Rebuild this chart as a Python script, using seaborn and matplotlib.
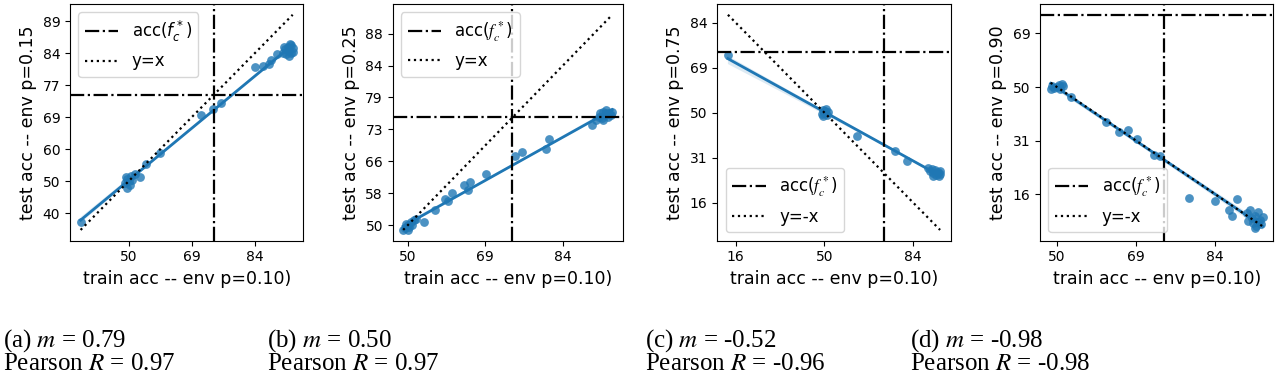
import math
import numpy as np
import pandas as pd
import matplotlib
matplotlib.use("Agg")
import matplotlib.pyplot as plt
from matplotlib.lines import Line2D
import seaborn as sns

# ---- data: train / test accuracies, in probit units
# (axes are probit-scaled: z = Phi^-1(accuracy); tick labels show accuracy %)
a_train = [-0.38, -0.03, -0.01, 0.02, 0.05, 0.09, -0.01, 0.00, 0.03, -0.02, 0.01,
           0.14, 0.246, 0.571, 0.669, 0.735, 1.00, 1.066, 1.111, 1.132, 1.172,
           1.22, 1.24, 1.25, 1.26, 1.27, 1.28, 1.29, 1.30, 1.27, 1.29, 1.23, 1.30]
a_test = [-0.32, -0.01, 0.02, 0.04, 0.06, 0.03, -0.05, 0.00, 0.01, 0.03, -0.03,
          0.135, 0.22, 0.518, 0.566, 0.612, 0.891, 0.899, 0.917, 0.944, 0.997,
          1.00, 1.03, 0.99, 1.05, 1.02, 1.07, 1.00, 1.04, 0.98, 1.06, 1.05, 1.01]

b_train = [-0.03, -0.02, 0.00, 0.01, 0.02, 0.04, 0.03, -0.01, 0.00, 0.05,
           0.103, 0.174, 0.238, 0.26, 0.285, 0.36, 0.389, 0.403, 0.507, 0.689,
           0.737, 0.893, 0.908, 1.187, 1.213,
           1.23, 1.24, 1.25, 1.26, 1.27, 1.28, 1.29, 1.30, 1.31, 1.318, 1.26, 1.28]
b_test = [-0.03, -0.02, 0.00, -0.01, 0.02, 0.035, 0.00, 0.01, -0.03, 0.04,
          0.022, 0.093, 0.163, 0.152, 0.199, 0.253, 0.221, 0.268, 0.319, 0.432,
          0.457, 0.478, 0.537, 0.63, 0.657,
          0.68, 0.70, 0.67, 0.71, 0.69, 0.72, 0.68, 0.70, 0.69, 0.71, 0.66, 0.70]

c_train = [-1.087, -0.03, 0.01, 0.03, -0.02, 0.00, 0.04, 0.02, -0.01,
           0.369, 0.794, 0.932,
           1.17, 1.19, 1.21, 1.23, 1.25, 1.26, 1.28, 1.30, 1.29, 1.22, 1.305]
c_test = [0.645, -0.02, 0.02, -0.03, 0.03, 0.00, 0.01, 0.04, -0.04,
          -0.257, -0.425, -0.537,
          -0.62, -0.65, -0.63, -0.67, -0.64, -0.69, -0.66, -0.65, -0.70, -0.71, -0.68]

d_train = [-0.04, -0.02, 0.01, 0.03, 0.00, -0.03, 0.02, 0.04,
           0.09, 0.31, 0.394, 0.447, 0.506, 0.611, 0.654, 0.837, 0.996, 1.135,
           1.09, 1.108,
           1.20, 1.22, 1.23, 1.24, 1.25, 1.26, 1.27, 1.28, 1.29, 1.30, 1.25, 1.21, 1.27]
d_test = [-0.02, -0.01, 0.02, 0.03, 0.00, 0.01, -0.02, 0.01,
          -0.093, -0.324, -0.417, -0.402, -0.481, -0.636, -0.648, -1.037, -1.059, -1.044,
          -1.143, -1.207,
          -1.18, -1.15, -1.22, -1.27, -1.20, -1.30, -1.17, -1.24, -1.28, -1.21, -1.32, -1.25, -1.26]

fc_star_acc = 75.0  # accuracy of f_c^* (percent)

panel_ylabels = ["test acc -- env p=0.15", "test acc -- env p=0.25",
                 "test acc -- env p=0.75", "test acc -- env p=0.90"]
xlabel = "train acc -- env p=0.10)"
ref_labels = ["y=x", "y=x", "y=-x", "y=-x"]
ref_signs = [1, 1, -1, -1]
legend_locs = ["upper left", "upper left", "lower left", "lower left"]

xticks_probit = [[0, 0.5, 1.0], [0, 0.5, 1.0], [-1.0, 0, 1.0], [0, 0.5, 1.0]]
yticks_probit = [[-0.25, 0, 0.25, 0.5, 0.75, 1.0, 1.25],
                 [0, 0.2, 0.4, 0.6, 0.8, 1.0, 1.2],
                 [-1.0, -0.5, 0, 0.5, 1.0],
                 [-1.0, -0.5, 0, 0.5]]

captions = [("(a) $m$ = 0.79", "Pearson $R$ = 0.97"),
            ("(b) $m$ = 0.50", "Pearson $R$ = 0.97"),
            ("(c) $m$ = -0.52", "Pearson $R$ = -0.96"),
            ("(d) $m$ = -0.98", "Pearson $R$ = -0.98")]


def Phi(z):
    return 0.5 * (1.0 + math.erf(z / math.sqrt(2.0)))


def probit(p):
    lo, hi = -10.0, 10.0
    for _ in range(200):
        mid = 0.5 * (lo + hi)
        if Phi(mid) < p:
            lo = mid
        else:
            hi = mid
    return 0.5 * (lo + hi)


W, H = 1280, 388
fig = plt.figure(figsize=(W / 100, H / 100), dpi=100)

ax_px = [(70, 303.3), (392.7, 622.7), (717.3, 950.7), (1040, 1273.3)]
top_px, bot_px = 4, 240.7
cap_x = [3, 267, 645, 910]

trains = [a_train, b_train, c_train, d_train]
tests = [a_test, b_test, c_test, d_test]
fc = probit(fc_star_acc / 100.0)
blue = "#1f77b4"

for i in range(4):
    l, r = ax_px[i]
    ax = fig.add_axes([l / W, 1 - bot_px / H, (r - l) / W, (bot_px - top_px) / H])
    df = pd.DataFrame({"train": trains[i], "test": tests[i]})
    sns.regplot(data=df, x="train", y="test", ax=ax, color=blue, seed=0,
                scatter_kws={"s": 40, "alpha": 0.8, "linewidths": 0},
                line_kws={"lw": 2})
    ax.axhline(fc, color="black", ls="-.", lw=1.6, label="acc($f_c^*$)")
    ax.axvline(fc, color="black", ls="-.", lw=1.6)
    xs = np.array([df["train"].min(), df["train"].max()])
    ax.plot(xs, ref_signs[i] * xs, color="black", ls=":", lw=1.6, label=ref_labels[i])

    ax.set_xticks(xticks_probit[i])
    ax.set_xticklabels([str(int(round(100 * Phi(t)))) for t in xticks_probit[i]])
    ax.set_yticks(yticks_probit[i])
    ax.set_yticklabels([str(int(round(100 * Phi(t)))) for t in yticks_probit[i]])
    ax.tick_params(labelsize=10)
    ax.set_xlabel(xlabel, fontsize=12.5)
    ax.set_ylabel(panel_ylabels[i], fontsize=12.5)
    ax.legend(loc=legend_locs[i], fontsize=12)

    plt.rcParams["mathtext.fontset"] = "stix"
    fig.text(cap_x[i] / W, 1 - 347 / H, captions[i][0], fontsize=18,
             family="Liberation Serif", va="baseline", ha="left")
    fig.text(cap_x[i] / W, 1 - 370 / H, captions[i][1], fontsize=18,
             family="Liberation Serif", va="baseline", ha="left")

fig.savefig("out.png", dpi=100)
